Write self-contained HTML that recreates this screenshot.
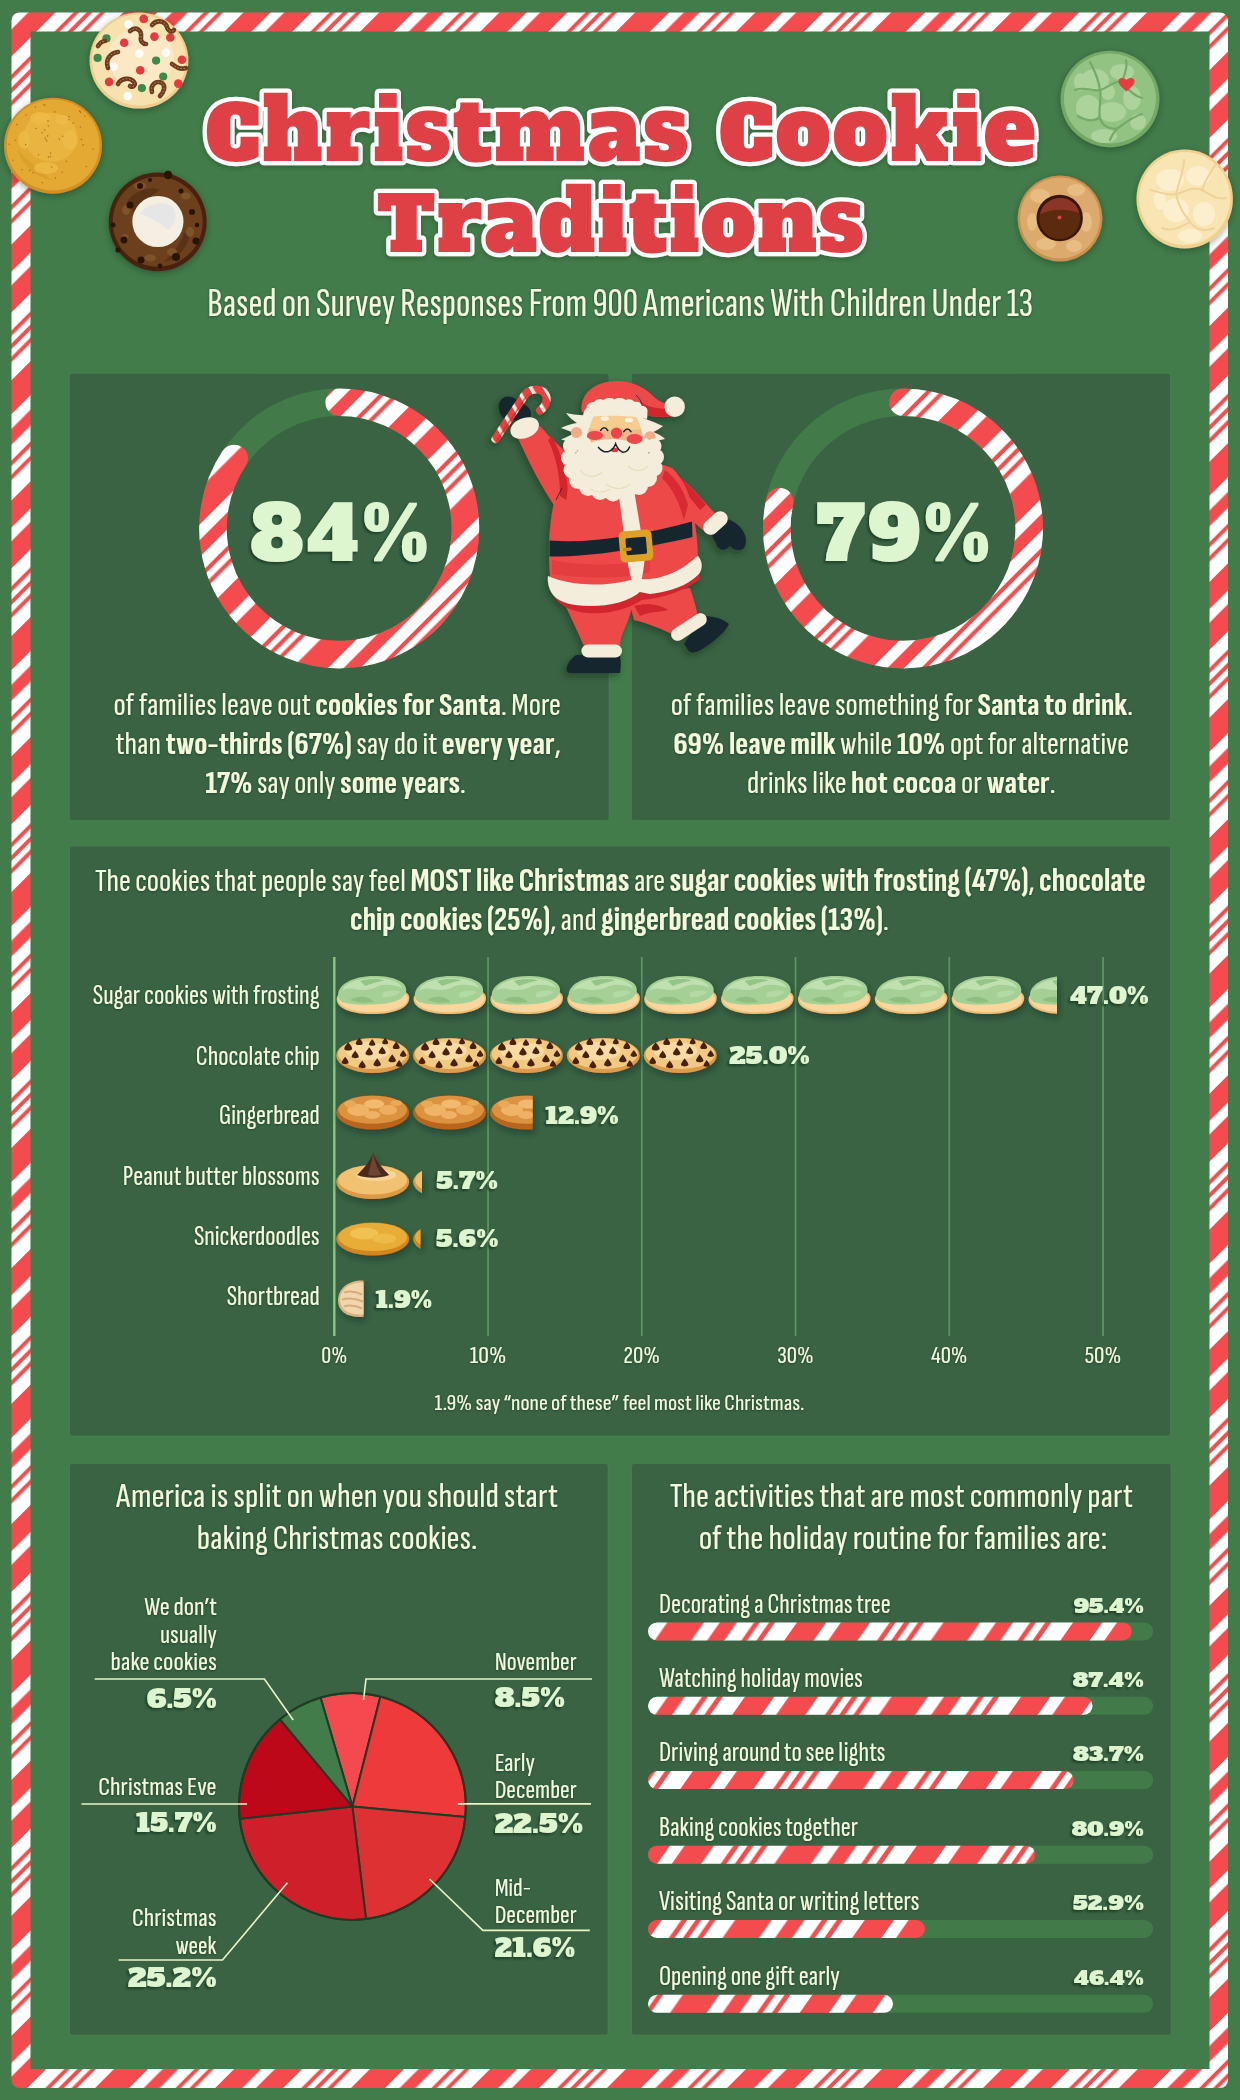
<!DOCTYPE html><html><head><meta charset="utf-8"><title>Christmas Cookie Traditions</title>
<style>html,body{margin:0;padding:0;background:#437c4b;}body{width:1240px;height:2100px;overflow:hidden;position:relative;}svg{position:absolute;left:0;top:0;display:block}.sh{filter:url(#tsh)}.nsh{filter:url(#nsh)}text{font-synthesis:none}</style></head><body>
<svg width="1240" height="2100" viewBox="0 0 1240 2100">
<defs>
<pattern id="cc" patternUnits="userSpaceOnUse" width="192.27" height="20" patternTransform="rotate(45) translate(0,0)">
<rect width="192.27" height="20" fill="#ffffff"/>
<rect x="0.00" y="0" width="20.40" height="20" fill="#f44b4e"/>
<rect x="30.60" y="0" width="20.40" height="20" fill="#f44b4e"/>
<rect x="64.60" y="0" width="4.08" height="20" fill="#f44b4e"/>
<rect x="74.46" y="0" width="4.08" height="20" fill="#f44b4e"/>
<rect x="84.32" y="0" width="4.08" height="20" fill="#f44b4e"/>
<rect x="102.00" y="0" width="25.50" height="20" fill="#f44b4e"/>
<rect x="138.55" y="0" width="11.90" height="20" fill="#f44b4e"/>
<rect x="162.35" y="0" width="4.08" height="20" fill="#f44b4e"/>
<rect x="172.89" y="0" width="4.08" height="20" fill="#f44b4e"/>
</pattern>
<pattern id="ccf" patternUnits="userSpaceOnUse" width="180.96" height="20" patternTransform="rotate(45) translate(0,0)">
<rect width="180.96" height="20" fill="#ffffff"/>
<rect x="0.00" y="0" width="19.20" height="20" fill="#f44b4e"/>
<rect x="28.80" y="0" width="19.20" height="20" fill="#f44b4e"/>
<rect x="60.80" y="0" width="3.84" height="20" fill="#f44b4e"/>
<rect x="70.08" y="0" width="3.84" height="20" fill="#f44b4e"/>
<rect x="79.36" y="0" width="3.84" height="20" fill="#f44b4e"/>
<rect x="96.00" y="0" width="24.00" height="20" fill="#f44b4e"/>
<rect x="130.40" y="0" width="11.20" height="20" fill="#f44b4e"/>
<rect x="152.80" y="0" width="3.84" height="20" fill="#f44b4e"/>
<rect x="162.72" y="0" width="3.84" height="20" fill="#f44b4e"/>
</pattern>
<pattern id="cc2" patternUnits="userSpaceOnUse" width="226.20" height="20" patternTransform="rotate(35) translate(0,0)">
<rect width="226.20" height="20" fill="#ffffff"/>
<rect x="0.00" y="0" width="24.00" height="20" fill="#f44b4e"/>
<rect x="36.00" y="0" width="24.00" height="20" fill="#f44b4e"/>
<rect x="76.00" y="0" width="4.80" height="20" fill="#f44b4e"/>
<rect x="87.60" y="0" width="4.80" height="20" fill="#f44b4e"/>
<rect x="99.20" y="0" width="4.80" height="20" fill="#f44b4e"/>
<rect x="120.00" y="0" width="30.00" height="20" fill="#f44b4e"/>
<rect x="163.00" y="0" width="14.00" height="20" fill="#f44b4e"/>
<rect x="191.00" y="0" width="4.80" height="20" fill="#f44b4e"/>
<rect x="203.40" y="0" width="4.80" height="20" fill="#f44b4e"/>
</pattern>
<pattern id="cane" patternUnits="userSpaceOnUse" width="12" height="12" patternTransform="rotate(-30)"><rect width="12" height="12" fill="#e8403f"/><rect width="3.6" height="12" fill="#f7efdc"/></pattern>
<filter id="tsh" x="-5%" y="-20%" width="110%" height="140%"><feDropShadow dx="0" dy="0.6" stdDeviation="0.9" flood-color="#173520" flood-opacity="0.75"/></filter>
<filter id="nsh" x="-8%" y="-20%" width="116%" height="150%"><feDropShadow dx="-1.8" dy="2" stdDeviation="1.1" flood-color="#17301d" flood-opacity="0.7"/></filter>
<filter id="csh" x="-20%" y="-20%" width="140%" height="160%"><feDropShadow dx="2" dy="4" stdDeviation="3" flood-color="#10261a" flood-opacity="0.5"/></filter>
<filter id="ssh" x="-10%" y="-10%" width="120%" height="120%"><feDropShadow dx="0" dy="2" stdDeviation="3" flood-color="#10261a" flood-opacity="0.4"/></filter>
<filter id="ttl" x="-5%" y="-10%" width="110%" height="130%"><feDropShadow dx="0" dy="2" stdDeviation="2" flood-color="#12301a" flood-opacity="0.35"/></filter>
<filter id="santash" x="-15%" y="-15%" width="130%" height="130%"><feDropShadow dx="-2" dy="3" stdDeviation="3" flood-color="#0f2617" flood-opacity="0.5"/></filter>
</defs>
<rect width="1240" height="2100" fill="#437c4b"/>
<rect x="11.5" y="12.5" width="1216.5" height="2075.5" rx="8" fill="url(#ccf)"/>
<rect x="30.5" y="31.5" width="1179" height="2037.5" fill="#437c4b"/>
<rect x="69.3" y="373.3" width="539.7" height="447.2" rx="2.5" fill="#3a6344" stroke="#52895a" stroke-width="0.8" stroke-opacity="0.6"/>
<rect x="631.4" y="373.3" width="539.1" height="447.2" rx="2.5" fill="#3a6344" stroke="#52895a" stroke-width="0.8" stroke-opacity="0.6"/>
<rect x="69.5" y="846" width="1101.0" height="590" rx="2.5" fill="#3a6344" stroke="#52895a" stroke-width="0.8" stroke-opacity="0.6"/>
<rect x="69.5" y="1463.5" width="538.5" height="571.5" rx="2.5" fill="#3a6344" stroke="#52895a" stroke-width="0.8" stroke-opacity="0.6"/>
<rect x="631.5" y="1463.5" width="539.5" height="571.5" rx="2.5" fill="#3a6344" stroke="#52895a" stroke-width="0.8" stroke-opacity="0.6"/>
<circle cx="339.2" cy="528.4" r="126.2" fill="none" stroke="#427b49" stroke-width="27.6"/>
<path d="M339.2,402.2 A126.2,126.2 0 1 1 234.16,458.45" fill="none" stroke="url(#cc)" stroke-width="27.6" stroke-linecap="round"/>
<text x="250.5" y="560.5" font-size="75.6" font-weight="700" text-anchor="start" fill="#def6cf" font-family="'Alfa Slab One','DejaVu Serif','Liberation Serif',serif" textLength="178.5" lengthAdjust="spacing" class="nsh" >84%</text>
<circle cx="903.0" cy="528.4" r="126.2" fill="none" stroke="#427b49" stroke-width="27.6"/>
<path d="M903.0,402.2 A126.2,126.2 0 1 1 779.67,501.64" fill="none" stroke="url(#cc)" stroke-width="27.6" stroke-linecap="round"/>
<text x="816.4" y="560.5" font-size="75.6" font-weight="700" text-anchor="start" fill="#def6cf" font-family="'Alfa Slab One','DejaVu Serif','Liberation Serif',serif" textLength="174.1" lengthAdjust="spacing" class="nsh" >79%</text>
<text x="113.5" y="715.0" font-size="32.3" font-weight="420" text-anchor="start" fill="#f4f9dc" font-family="'Sofia Sans Extra Condensed','Liberation Sans',sans-serif" textLength="447.2" lengthAdjust="spacingAndGlyphs" class="sh" >of families leave out <tspan font-weight="700">cookies for Santa</tspan>. More</text>
<text x="115.5" y="753.8" font-size="32.3" font-weight="420" text-anchor="start" fill="#f4f9dc" font-family="'Sofia Sans Extra Condensed','Liberation Sans',sans-serif" textLength="445.2" lengthAdjust="spacingAndGlyphs" class="sh" >than <tspan font-weight="700">two-thirds (67%)</tspan> say do it <tspan font-weight="700">every year</tspan>,</text>
<text x="205.3" y="792.6" font-size="32.3" font-weight="420" text-anchor="start" fill="#f4f9dc" font-family="'Sofia Sans Extra Condensed','Liberation Sans',sans-serif" textLength="260.6" lengthAdjust="spacingAndGlyphs" class="sh" ><tspan font-weight="700">17%</tspan> say only <tspan font-weight="700">some years</tspan>.</text>
<text x="670.8" y="715.0" font-size="32.3" font-weight="420" text-anchor="start" fill="#f4f9dc" font-family="'Sofia Sans Extra Condensed','Liberation Sans',sans-serif" textLength="462.2" lengthAdjust="spacingAndGlyphs" class="sh" >of families leave something for <tspan font-weight="700">Santa to drink</tspan>.</text>
<text x="673.5" y="753.8" font-size="32.3" font-weight="420" text-anchor="start" fill="#f4f9dc" font-family="'Sofia Sans Extra Condensed','Liberation Sans',sans-serif" textLength="455.5" lengthAdjust="spacingAndGlyphs" class="sh" ><tspan font-weight="700">69% leave milk</tspan> while <tspan font-weight="700">10%</tspan> opt for alternative</text>
<text x="747.0" y="792.6" font-size="32.3" font-weight="420" text-anchor="start" fill="#f4f9dc" font-family="'Sofia Sans Extra Condensed','Liberation Sans',sans-serif" textLength="308.7" lengthAdjust="spacingAndGlyphs" class="sh" >drinks like <tspan font-weight="700">hot cocoa</tspan> or <tspan font-weight="700">water</tspan>.</text>
<text x="207.3" y="315.9" font-size="41.2" font-weight="430" text-anchor="start" fill="#f4f9dc" font-family="'Sofia Sans Extra Condensed','Liberation Sans',sans-serif" textLength="825.7" lengthAdjust="spacingAndGlyphs" class="sh" >Based on Survey Responses From 900 Americans With Children Under 13</text>
<text x="95.0" y="890.5" font-size="33" font-weight="420" text-anchor="start" fill="#f4f9dc" font-family="'Sofia Sans Extra Condensed','Liberation Sans',sans-serif" textLength="1050.8" lengthAdjust="spacingAndGlyphs" class="sh" >The cookies that people say feel <tspan font-weight="700">MOST like Christmas</tspan> are <tspan font-weight="700">sugar cookies with frosting (47%)</tspan>, <tspan font-weight="700">chocolate</tspan></text>
<text x="350.0" y="929.5" font-size="33" font-weight="420" text-anchor="start" fill="#f4f9dc" font-family="'Sofia Sans Extra Condensed','Liberation Sans',sans-serif" textLength="538.8" lengthAdjust="spacingAndGlyphs" class="sh" ><tspan font-weight="700">chip cookies (25%)</tspan>, and <tspan font-weight="700">gingerbread cookies (13%)</tspan>.</text>
<defs>
<g id="ck_sugar"><path d="M0.5,24 C0.5,16 14,12 37,12 C60,12 73,15 73,23 C73,33 58,39 36,39 C14,39 0.5,33 0.5,24 Z" fill="#efbf78"/><path d="M2,24 C2,17 15,14 37,14 C59,14 71.5,17 71.5,23.5 C71.5,31 57,37 36,37 C15,37 2,31 2,24 Z" fill="#f8d69d"/><path d="M2,21 C1,10 16,1 38,1 C58,1 71,7 70,16 C69,23 60,28 44,29 C30,30 18,30 10,28 C4,27 2,24 2,21 Z" fill="#a4d095"/><path d="M6,16 C8,8 22,3 38,3 C54,3 64,7 66,13 C58,9 48,9 42,11 C36,15 26,16 18,14 C12,13 8,14 6,16 Z" fill="#bfe0b1"/><path d="M24,6 C32,3.5 42,3.5 48,5.5 C42,6.5 35,8.5 29,11 Z" fill="#93c686"/><path d="M14,25 C22,20 32,21 38,27 C30,28.5 22,28 14,25 Z" fill="#8dc080"/><path d="M46,18 C52,15 60,15 64,17 C60,21 52,23 46,22 Z" fill="#b3d9a4"/></g>
<g id="ck_choc"><ellipse cx="36.5" cy="18.5" rx="36.5" ry="17.5" fill="#dd9c4c"/><ellipse cx="36.5" cy="16.8" rx="34.8" ry="15.2" fill="#f2c983"/><ellipse cx="32" cy="14" rx="22" ry="9" fill="#f8dba3"/><path d="M8.0,12.2 C8.0,9.2 10.8,7.2 12.0,5.0 C13.2,7.2 16.0,9.2 16.0,12.2 C14.4,14.0 9.6,14.0 8.0,12.2 Z" fill="#4a230f"/><path d="M19.5,6.9 C19.5,4.3 21.9,2.6 23.0,0.6 C24.1,2.6 26.5,4.3 26.5,6.9 C25.1,8.5 20.9,8.5 19.5,6.9 Z" fill="#4a230f"/><path d="M32.8,7.8 C32.8,5.4 35.0,3.8 36.0,2.0 C37.0,3.8 39.2,5.4 39.2,7.8 C37.9,9.2 34.1,9.2 32.8,7.8 Z" fill="#4a230f"/><path d="M46.0,6.2 C46.0,3.9 48.1,2.4 49.0,0.8 C49.9,2.4 52.0,3.9 52.0,6.2 C50.8,7.5 47.2,7.5 46.0,6.2 Z" fill="#4a230f"/><path d="M56.5,10.9 C56.5,8.3 59.0,6.6 60.0,4.6 C61.0,6.6 63.5,8.3 63.5,10.9 C62.1,12.5 57.9,12.5 56.5,10.9 Z" fill="#4a230f"/><path d="M63.7,18.8 C63.7,16.3 66.0,14.7 67.0,12.9 C68.0,14.7 70.3,16.3 70.3,18.8 C69.0,20.3 65.0,20.3 63.7,18.8 Z" fill="#4a230f"/><path d="M15.4,20.0 C15.4,17.3 17.9,15.5 19.0,13.5 C20.1,15.5 22.6,17.3 22.6,20.0 C21.2,21.6 16.8,21.6 15.4,20.0 Z" fill="#4a230f"/><path d="M29.2,17.1 C29.2,14.2 31.9,12.3 33.0,10.2 C34.1,12.3 36.8,14.2 36.8,17.1 C35.3,18.8 30.7,18.8 29.2,17.1 Z" fill="#4a230f"/><path d="M42.4,16.0 C42.4,13.3 44.9,11.5 46.0,9.5 C47.1,11.5 49.6,13.3 49.6,16.0 C48.2,17.6 43.8,17.6 42.4,16.0 Z" fill="#4a230f"/><path d="M52.2,24.1 C52.2,21.2 54.9,19.3 56.0,17.2 C57.1,19.3 59.8,21.2 59.8,24.1 C58.3,25.8 53.7,25.8 52.2,24.1 Z" fill="#4a230f"/><path d="M5.6,25.9 C5.6,23.3 8.0,21.6 9.0,19.8 C10.0,21.6 12.4,23.3 12.4,25.9 C11.0,27.4 7.0,27.4 5.6,25.9 Z" fill="#4a230f"/><path d="M22.4,30.0 C22.4,27.3 24.9,25.5 26.0,23.5 C27.1,25.5 29.6,27.3 29.6,30.0 C28.2,31.6 23.8,31.6 22.4,30.0 Z" fill="#4a230f"/><path d="M37.2,28.1 C37.2,25.2 39.9,23.3 41.0,21.2 C42.1,23.3 44.8,25.2 44.8,28.1 C43.3,29.8 38.7,29.8 37.2,28.1 Z" fill="#4a230f"/><path d="M59.8,28.8 C59.8,26.4 62.0,24.8 63.0,23.0 C64.0,24.8 66.2,26.4 66.2,28.8 C64.9,30.2 61.1,30.2 59.8,28.8 Z" fill="#4a230f"/></g>
<g id="ck_ginger"><ellipse cx="36.5" cy="17.5" rx="36.5" ry="17" fill="#b9651c"/><ellipse cx="36.5" cy="14.8" rx="34.5" ry="14" fill="#dc9340"/><ellipse cx="22" cy="15" rx="11" ry="6" fill="#f0b466"/><ellipse cx="38" cy="9" rx="10" ry="4.5" fill="#f2ba70"/><ellipse cx="52" cy="15" rx="9" ry="5" fill="#eeae5e"/><ellipse cx="36" cy="20" rx="8" ry="4" fill="#efb163"/><ellipse cx="14" cy="9" rx="6" ry="3.5" fill="#eaa956"/><ellipse cx="60" cy="8" rx="6" ry="3" fill="#eaa956"/></g>
<g id="ck_peanut"><ellipse cx="36.5" cy="17" rx="36.5" ry="17" fill="#dd9a45"/><ellipse cx="36.5" cy="15" rx="34.5" ry="14.5" fill="#f2c273"/><ellipse cx="40" cy="10" rx="20" ry="6" fill="#f7d592"/></g>
<g id="ck_snick"><ellipse cx="36.5" cy="16.5" rx="36.5" ry="16.5" fill="#d4861f"/><ellipse cx="36.5" cy="14.5" rx="34.5" ry="14" fill="#e8ad38"/><ellipse cx="28" cy="11" rx="14" ry="6" fill="#f0c252"/><ellipse cx="48" cy="16" rx="12" ry="5" fill="#eeba48"/></g>
</defs>
<rect x="333.10" y="957" width="2.4" height="379" fill="#8cc684"/>
<rect x="487.15" y="957" width="1.8" height="379" fill="#5a965e"/>
<rect x="640.90" y="957" width="1.8" height="379" fill="#5a965e"/>
<rect x="794.65" y="957" width="1.8" height="379" fill="#5a965e"/>
<rect x="948.40" y="957" width="1.8" height="379" fill="#5a965e"/>
<rect x="1102.15" y="957" width="1.8" height="379" fill="#5a965e"/>
<clipPath id="clip0"><rect x="300" y="945.0" width="756.92" height="100"/></clipPath>
<g filter="url(#csh)"><g clip-path="url(#clip0)">
<use href="#ck_sugar" x="336.20" y="975.0"/>
<use href="#ck_sugar" x="413.07" y="975.0"/>
<use href="#ck_sugar" x="489.95" y="975.0"/>
<use href="#ck_sugar" x="566.83" y="975.0"/>
<use href="#ck_sugar" x="643.70" y="975.0"/>
<use href="#ck_sugar" x="720.58" y="975.0"/>
<use href="#ck_sugar" x="797.45" y="975.0"/>
<use href="#ck_sugar" x="874.33" y="975.0"/>
<use href="#ck_sugar" x="951.20" y="975.0"/>
<use href="#ck_sugar" x="1028.08" y="975.0"/>
</g></g>
<text x="92.7" y="1003.5" font-size="27.4" font-weight="420" text-anchor="start" fill="#f4f9dc" font-family="'Sofia Sans Extra Condensed','Liberation Sans',sans-serif" textLength="227.0" lengthAdjust="spacingAndGlyphs" class="sh" >Sugar cookies with frosting</text>
<text x="1070.0" y="1004.2" font-size="22" font-weight="700" text-anchor="start" fill="#def6cf" font-family="'Alfa Slab One','DejaVu Serif','Liberation Serif',serif" textLength="78.7" lengthAdjust="spacingAndGlyphs" class="nsh" >47.0%</text>
<clipPath id="clip1"><rect x="300" y="1007.0" width="418.67" height="100"/></clipPath>
<g filter="url(#csh)"><g clip-path="url(#clip1)">
<use href="#ck_choc" x="336.20" y="1037.0"/>
<use href="#ck_choc" x="413.07" y="1037.0"/>
<use href="#ck_choc" x="489.95" y="1037.0"/>
<use href="#ck_choc" x="566.83" y="1037.0"/>
<use href="#ck_choc" x="643.70" y="1037.0"/>
</g></g>
<text x="195.8" y="1064.5" font-size="27.4" font-weight="420" text-anchor="start" fill="#f4f9dc" font-family="'Sofia Sans Extra Condensed','Liberation Sans',sans-serif" textLength="123.9" lengthAdjust="spacingAndGlyphs" class="sh" >Chocolate chip</text>
<text x="729.3" y="1063.5" font-size="22" font-weight="700" text-anchor="start" fill="#def6cf" font-family="'Alfa Slab One','DejaVu Serif','Liberation Serif',serif" textLength="80.6" lengthAdjust="spacingAndGlyphs" class="nsh" >25.0%</text>
<clipPath id="clip2"><rect x="300" y="1065.0" width="232.64" height="100"/></clipPath>
<g filter="url(#csh)"><g clip-path="url(#clip2)">
<use href="#ck_ginger" x="336.20" y="1095.0"/>
<use href="#ck_ginger" x="413.07" y="1095.0"/>
<use href="#ck_ginger" x="489.95" y="1095.0"/>
</g></g>
<text x="219.0" y="1124.4" font-size="27.4" font-weight="420" text-anchor="start" fill="#f4f9dc" font-family="'Sofia Sans Extra Condensed','Liberation Sans',sans-serif" textLength="100.7" lengthAdjust="spacingAndGlyphs" class="sh" >Gingerbread</text>
<text x="545.3" y="1124.0" font-size="22" font-weight="700" text-anchor="start" fill="#def6cf" font-family="'Alfa Slab One','DejaVu Serif','Liberation Serif',serif" textLength="73.6" lengthAdjust="spacingAndGlyphs" class="nsh" >12.9%</text>
<clipPath id="clip3"><rect x="300" y="1135.0" width="121.94" height="100"/></clipPath>
<g filter="url(#csh)"><g clip-path="url(#clip3)">
<use href="#ck_peanut" x="336.20" y="1165.0"/>
<path d="M373.2,1152.5 C375.2,1160.0 382.2,1168.0 389.2,1175.0 C380.2,1178.5 366.2,1178.5 357.2,1175.0 C364.2,1168.0 371.2,1160.0 373.2,1152.5 Z" fill="#4a2a1c"/>
<path d="M373.2,1152.5 C374.2,1161.0 377.2,1168.0 381.2,1175.0 C376.2,1176.0 371.2,1176.0 368.2,1175.0 C370.2,1166.0 372.2,1160.0 373.2,1152.5 Z" fill="#6e4532"/>
<use href="#ck_peanut" x="413.07" y="1165.0"/>
</g></g>
<text x="122.8" y="1184.8" font-size="27.4" font-weight="420" text-anchor="start" fill="#f4f9dc" font-family="'Sofia Sans Extra Condensed','Liberation Sans',sans-serif" textLength="196.9" lengthAdjust="spacingAndGlyphs" class="sh" >Peanut butter blossoms</text>
<text x="436.3" y="1189.3" font-size="22" font-weight="700" text-anchor="start" fill="#def6cf" font-family="'Alfa Slab One','DejaVu Serif','Liberation Serif',serif" textLength="61.7" lengthAdjust="spacingAndGlyphs" class="nsh" >5.7%</text>
<clipPath id="clip4"><rect x="300" y="1192.5" width="120.40" height="100"/></clipPath>
<g filter="url(#csh)"><g clip-path="url(#clip4)">
<use href="#ck_snick" x="336.20" y="1222.5"/>
<use href="#ck_snick" x="413.07" y="1222.5"/>
</g></g>
<text x="193.9" y="1244.9" font-size="27.4" font-weight="420" text-anchor="start" fill="#f4f9dc" font-family="'Sofia Sans Extra Condensed','Liberation Sans',sans-serif" textLength="125.8" lengthAdjust="spacingAndGlyphs" class="sh" >Snickerdoodles</text>
<text x="436.0" y="1246.8" font-size="22" font-weight="700" text-anchor="start" fill="#def6cf" font-family="'Alfa Slab One','DejaVu Serif','Liberation Serif',serif" textLength="62.5" lengthAdjust="spacingAndGlyphs" class="nsh" >5.6%</text>
<clipPath id="clip5"><rect x="300" y="1250.5" width="63.51" height="100"/></clipPath>
<g filter="url(#csh)"><g clip-path="url(#clip5)">
<g transform="translate(336,1280.5)"><path d="M2,20 C2,8 12,0 26,0 C40,0 46,10 46,20 C46,30 36,36.5 24,36.5 C10,36.5 2,30 2,20 Z" fill="#d9b282"/><path d="M4,19 C4,9 13,2 26,2 C38,2 44,10 44,19 C44,28 35,34 24,34 C12,34 4,28 4,19 Z" fill="#f1d6ab"/><path d="M8,12 C14,10 20,11 26,14 M6,19 C13,17 20,18 27,21 M8,26 C14,24 20,25 26,28" stroke="#d4ad7c" stroke-width="2" fill="none"/></g>
</g></g>
<text x="226.8" y="1305.2" font-size="27.4" font-weight="420" text-anchor="start" fill="#f4f9dc" font-family="'Sofia Sans Extra Condensed','Liberation Sans',sans-serif" textLength="92.9" lengthAdjust="spacingAndGlyphs" class="sh" >Shortbread</text>
<text x="375.5" y="1307.5" font-size="22" font-weight="700" text-anchor="start" fill="#def6cf" font-family="'Alfa Slab One','DejaVu Serif','Liberation Serif',serif" textLength="56.5" lengthAdjust="spacingAndGlyphs" class="nsh" >1.9%</text>
<text x="321.3" y="1363.4" font-size="24.6" font-weight="420" text-anchor="start" fill="#f4f9dc" font-family="'Sofia Sans Extra Condensed','Liberation Sans',sans-serif" textLength="26.0" lengthAdjust="spacingAndGlyphs" class="sh" >0%</text>
<text x="469.8" y="1363.4" font-size="24.6" font-weight="420" text-anchor="start" fill="#f4f9dc" font-family="'Sofia Sans Extra Condensed','Liberation Sans',sans-serif" textLength="36.5" lengthAdjust="spacingAndGlyphs" class="sh" >10%</text>
<text x="623.5" y="1363.4" font-size="24.6" font-weight="420" text-anchor="start" fill="#f4f9dc" font-family="'Sofia Sans Extra Condensed','Liberation Sans',sans-serif" textLength="36.5" lengthAdjust="spacingAndGlyphs" class="sh" >20%</text>
<text x="777.3" y="1363.4" font-size="24.6" font-weight="420" text-anchor="start" fill="#f4f9dc" font-family="'Sofia Sans Extra Condensed','Liberation Sans',sans-serif" textLength="36.5" lengthAdjust="spacingAndGlyphs" class="sh" >30%</text>
<text x="931.0" y="1363.4" font-size="24.6" font-weight="420" text-anchor="start" fill="#f4f9dc" font-family="'Sofia Sans Extra Condensed','Liberation Sans',sans-serif" textLength="36.5" lengthAdjust="spacingAndGlyphs" class="sh" >40%</text>
<text x="1084.8" y="1363.4" font-size="24.6" font-weight="420" text-anchor="start" fill="#f4f9dc" font-family="'Sofia Sans Extra Condensed','Liberation Sans',sans-serif" textLength="36.5" lengthAdjust="spacingAndGlyphs" class="sh" >50%</text>
<text x="434.5" y="1409.8" font-size="23" font-weight="420" text-anchor="start" fill="#f4f9dc" font-family="'Sofia Sans Extra Condensed','Liberation Sans',sans-serif" textLength="370.0" lengthAdjust="spacingAndGlyphs" class="sh" >1.9% say “none of these” feel most like Christmas.</text>
<path d="M352.4,1806.5 L320.57,1697.66 A113.4,113.4 0 0 1 380.41,1696.61 Z" fill="#f44a4f" stroke="#1f3b25" stroke-width="2" stroke-linejoin="round"/>
<path d="M352.4,1806.5 L380.41,1696.61 A113.4,113.4 0 0 1 465.32,1816.97 Z" fill="#ef3a3c" stroke="#1f3b25" stroke-width="2" stroke-linejoin="round"/>
<path d="M352.4,1806.5 L465.32,1816.97 A113.4,113.4 0 0 1 366.02,1919.08 Z" fill="#de3134" stroke="#1f3b25" stroke-width="2" stroke-linejoin="round"/>
<path d="M352.4,1806.5 L366.02,1919.08 A113.4,113.4 0 0 1 239.66,1818.75 Z" fill="#cf1f2a" stroke="#1f3b25" stroke-width="2" stroke-linejoin="round"/>
<path d="M352.4,1806.5 L239.66,1818.75 A113.4,113.4 0 0 1 279.96,1719.25 Z" fill="#bc0818" stroke="#1f3b25" stroke-width="2" stroke-linejoin="round"/>
<path d="M352.4,1806.5 L279.96,1719.25 A113.4,113.4 0 0 1 320.57,1697.66 Z" fill="#437c4b" stroke="#1f3b25" stroke-width="2" stroke-linejoin="round"/>
<circle cx="352.4" cy="1806.5" r="113.4" fill="none" stroke="#1f3b25" stroke-width="2"/>
<path d="M94.7,1679 L264.4,1679 L293.2,1720" fill="none" stroke="#eaf4c6" stroke-width="1.6"/>
<path d="M592,1679 L366,1679 L363.5,1700" fill="none" stroke="#eaf4c6" stroke-width="1.6"/>
<path d="M591,1803.9 L457.8,1803.9" fill="none" stroke="#eaf4c6" stroke-width="1.6"/>
<path d="M589.8,1930.4 L482.9,1930.4 L429.5,1879" fill="none" stroke="#eaf4c6" stroke-width="1.6"/>
<path d="M81.5,1804 L247.1,1804" fill="none" stroke="#eaf4c6" stroke-width="1.6"/>
<path d="M118.6,1960 L222.5,1960 L287.4,1882.8" fill="none" stroke="#eaf4c6" stroke-width="1.6"/>
<text x="144.2" y="1615.4" font-size="26.5" font-weight="420" text-anchor="start" fill="#f4f9dc" font-family="'Sofia Sans Extra Condensed','Liberation Sans',sans-serif" textLength="72.8" lengthAdjust="spacingAndGlyphs" class="sh" >We don’t</text>
<text x="160.0" y="1642.8" font-size="26.5" font-weight="420" text-anchor="start" fill="#f4f9dc" font-family="'Sofia Sans Extra Condensed','Liberation Sans',sans-serif" textLength="57.0" lengthAdjust="spacingAndGlyphs" class="sh" >usually</text>
<text x="110.5" y="1670.4" font-size="26.5" font-weight="420" text-anchor="start" fill="#f4f9dc" font-family="'Sofia Sans Extra Condensed','Liberation Sans',sans-serif" textLength="106.5" lengthAdjust="spacingAndGlyphs" class="sh" >bake cookies</text>
<text x="98.2" y="1794.9" font-size="26.5" font-weight="420" text-anchor="start" fill="#f4f9dc" font-family="'Sofia Sans Extra Condensed','Liberation Sans',sans-serif" textLength="118.3" lengthAdjust="spacingAndGlyphs" class="sh" >Christmas Eve</text>
<text x="132.1" y="1926.0" font-size="26.5" font-weight="420" text-anchor="start" fill="#f4f9dc" font-family="'Sofia Sans Extra Condensed','Liberation Sans',sans-serif" textLength="84.4" lengthAdjust="spacingAndGlyphs" class="sh" >Christmas</text>
<text x="175.4" y="1953.8" font-size="26.5" font-weight="420" text-anchor="start" fill="#f4f9dc" font-family="'Sofia Sans Extra Condensed','Liberation Sans',sans-serif" textLength="41.1" lengthAdjust="spacingAndGlyphs" class="sh" >week</text>
<text x="494.7" y="1670.0" font-size="26.5" font-weight="420" text-anchor="start" fill="#f4f9dc" font-family="'Sofia Sans Extra Condensed','Liberation Sans',sans-serif" textLength="82.1" lengthAdjust="spacingAndGlyphs" class="sh" >November</text>
<text x="494.7" y="1770.8" font-size="26.5" font-weight="420" text-anchor="start" fill="#f4f9dc" font-family="'Sofia Sans Extra Condensed','Liberation Sans',sans-serif" textLength="40.3" lengthAdjust="spacingAndGlyphs" class="sh" >Early</text>
<text x="494.7" y="1797.9" font-size="26.5" font-weight="420" text-anchor="start" fill="#f4f9dc" font-family="'Sofia Sans Extra Condensed','Liberation Sans',sans-serif" textLength="82.1" lengthAdjust="spacingAndGlyphs" class="sh" >December</text>
<text x="494.7" y="1895.9" font-size="26.5" font-weight="420" text-anchor="start" fill="#f4f9dc" font-family="'Sofia Sans Extra Condensed','Liberation Sans',sans-serif" textLength="36.3" lengthAdjust="spacingAndGlyphs" class="sh" >Mid-</text>
<text x="494.7" y="1923.4" font-size="26.5" font-weight="420" text-anchor="start" fill="#f4f9dc" font-family="'Sofia Sans Extra Condensed','Liberation Sans',sans-serif" textLength="82.1" lengthAdjust="spacingAndGlyphs" class="sh" >December</text>
<text x="146.7" y="1707.7" font-size="26" font-weight="700" text-anchor="start" fill="#def6cf" font-family="'Alfa Slab One','DejaVu Serif','Liberation Serif',serif" textLength="70.3" lengthAdjust="spacingAndGlyphs" class="nsh" >6.5%</text>
<text x="135.9" y="1832.3" font-size="26" font-weight="700" text-anchor="start" fill="#def6cf" font-family="'Alfa Slab One','DejaVu Serif','Liberation Serif',serif" textLength="81.0" lengthAdjust="spacingAndGlyphs" class="nsh" >15.7%</text>
<text x="127.9" y="1987.2" font-size="26" font-weight="700" text-anchor="start" fill="#def6cf" font-family="'Alfa Slab One','DejaVu Serif','Liberation Serif',serif" textLength="89.0" lengthAdjust="spacingAndGlyphs" class="nsh" >25.2%</text>
<text x="494.7" y="1707.2" font-size="26" font-weight="700" text-anchor="start" fill="#def6cf" font-family="'Alfa Slab One','DejaVu Serif','Liberation Serif',serif" textLength="70.3" lengthAdjust="spacingAndGlyphs" class="nsh" >8.5%</text>
<text x="494.7" y="1832.7" font-size="26" font-weight="700" text-anchor="start" fill="#def6cf" font-family="'Alfa Slab One','DejaVu Serif','Liberation Serif',serif" textLength="88.6" lengthAdjust="spacingAndGlyphs" class="nsh" >22.5%</text>
<text x="494.7" y="1957.4" font-size="26" font-weight="700" text-anchor="start" fill="#def6cf" font-family="'Alfa Slab One','DejaVu Serif','Liberation Serif',serif" textLength="80.5" lengthAdjust="spacingAndGlyphs" class="nsh" >21.6%</text>
<text x="116.3" y="1506.7" font-size="35" font-weight="430" text-anchor="start" fill="#f4f9dc" font-family="'Sofia Sans Extra Condensed','Liberation Sans',sans-serif" textLength="441.7" lengthAdjust="spacingAndGlyphs" class="sh" >America is split on when you should start</text>
<text x="196.8" y="1549.3" font-size="35" font-weight="430" text-anchor="start" fill="#f4f9dc" font-family="'Sofia Sans Extra Condensed','Liberation Sans',sans-serif" textLength="280.7" lengthAdjust="spacingAndGlyphs" class="sh" >baking Christmas cookies.</text>
<text x="669.7" y="1506.7" font-size="35" font-weight="430" text-anchor="start" fill="#f4f9dc" font-family="'Sofia Sans Extra Condensed','Liberation Sans',sans-serif" textLength="463.3" lengthAdjust="spacingAndGlyphs" class="sh" >The activities that are most commonly part</text>
<text x="698.7" y="1549.3" font-size="35" font-weight="430" text-anchor="start" fill="#f4f9dc" font-family="'Sofia Sans Extra Condensed','Liberation Sans',sans-serif" textLength="408.5" lengthAdjust="spacingAndGlyphs" class="sh" >of the holiday routine for families are:</text>
<rect x="648" y="1622.4" width="505.2" height="18" rx="9" fill="#427b49"/>
<rect x="648" y="1622.4" width="483.7" height="18" rx="9" fill="url(#cc2)"/>
<text x="658.9" y="1612.5" font-size="29" font-weight="410" text-anchor="start" fill="#f4f9dc" font-family="'Sofia Sans Extra Condensed','Liberation Sans',sans-serif" textLength="231.7" lengthAdjust="spacingAndGlyphs" class="sh" >Decorating a Christmas tree</text>
<text x="1073.7" y="1612.5" font-size="19.3" font-weight="700" text-anchor="start" fill="#def6cf" font-family="'Alfa Slab One','DejaVu Serif','Liberation Serif',serif" textLength="70.3" lengthAdjust="spacingAndGlyphs" class="nsh" >95.4%</text>
<rect x="648" y="1696.8" width="505.2" height="18" rx="9" fill="#427b49"/>
<rect x="648" y="1696.8" width="444.6" height="18" rx="9" fill="url(#cc2)"/>
<text x="658.9" y="1686.5" font-size="29" font-weight="410" text-anchor="start" fill="#f4f9dc" font-family="'Sofia Sans Extra Condensed','Liberation Sans',sans-serif" textLength="204.1" lengthAdjust="spacingAndGlyphs" class="sh" >Watching holiday movies</text>
<text x="1072.7" y="1686.5" font-size="19.3" font-weight="700" text-anchor="start" fill="#def6cf" font-family="'Alfa Slab One','DejaVu Serif','Liberation Serif',serif" textLength="71.3" lengthAdjust="spacingAndGlyphs" class="nsh" >87.4%</text>
<rect x="648" y="1771.1" width="505.2" height="18" rx="9" fill="#427b49"/>
<rect x="648" y="1771.1" width="425.7" height="18" rx="9" fill="url(#cc2)"/>
<text x="658.9" y="1761.3" font-size="29" font-weight="410" text-anchor="start" fill="#f4f9dc" font-family="'Sofia Sans Extra Condensed','Liberation Sans',sans-serif" textLength="226.7" lengthAdjust="spacingAndGlyphs" class="sh" >Driving around to see lights</text>
<text x="1073.1" y="1761.3" font-size="19.3" font-weight="700" text-anchor="start" fill="#def6cf" font-family="'Alfa Slab One','DejaVu Serif','Liberation Serif',serif" textLength="70.9" lengthAdjust="spacingAndGlyphs" class="nsh" >83.7%</text>
<rect x="648" y="1845.7" width="505.2" height="18" rx="9" fill="#427b49"/>
<rect x="648" y="1845.7" width="387.2" height="18" rx="9" fill="url(#cc2)"/>
<text x="658.9" y="1835.6" font-size="29" font-weight="410" text-anchor="start" fill="#f4f9dc" font-family="'Sofia Sans Extra Condensed','Liberation Sans',sans-serif" textLength="199.1" lengthAdjust="spacingAndGlyphs" class="sh" >Baking cookies together</text>
<text x="1071.7" y="1835.6" font-size="19.3" font-weight="700" text-anchor="start" fill="#def6cf" font-family="'Alfa Slab One','DejaVu Serif','Liberation Serif',serif" textLength="72.3" lengthAdjust="spacingAndGlyphs" class="nsh" >80.9%</text>
<rect x="648" y="1920.0" width="505.2" height="18" rx="9" fill="#427b49"/>
<rect x="648" y="1920.0" width="277.0" height="18" rx="9" fill="url(#cc2)"/>
<text x="658.9" y="1909.8" font-size="29" font-weight="410" text-anchor="start" fill="#f4f9dc" font-family="'Sofia Sans Extra Condensed','Liberation Sans',sans-serif" textLength="260.6" lengthAdjust="spacingAndGlyphs" class="sh" >Visiting Santa or writing letters</text>
<text x="1073.1" y="1909.8" font-size="19.3" font-weight="700" text-anchor="start" fill="#def6cf" font-family="'Alfa Slab One','DejaVu Serif','Liberation Serif',serif" textLength="70.9" lengthAdjust="spacingAndGlyphs" class="nsh" >52.9%</text>
<rect x="648" y="1994.8" width="505.2" height="18" rx="9" fill="#427b49"/>
<rect x="648" y="1994.8" width="245.0" height="18" rx="9" fill="url(#cc2)"/>
<text x="658.9" y="1984.5" font-size="29" font-weight="410" text-anchor="start" fill="#f4f9dc" font-family="'Sofia Sans Extra Condensed','Liberation Sans',sans-serif" textLength="181.1" lengthAdjust="spacingAndGlyphs" class="sh" >Opening one gift early</text>
<text x="1073.7" y="1984.5" font-size="19.3" font-weight="700" text-anchor="start" fill="#def6cf" font-family="'Alfa Slab One','DejaVu Serif','Liberation Serif',serif" textLength="70.3" lengthAdjust="spacingAndGlyphs" class="nsh" >46.4%</text>
<g filter="url(#ssh)">
<g>
<ellipse cx="139" cy="60.6" rx="49.4" ry="48" fill="#efcd8c"/>
<ellipse cx="139" cy="60" rx="47" ry="45.5" fill="#f7e1ae"/>
<ellipse cx="141" cy="58" rx="33" ry="30" fill="#fae9c4"/>
<circle cx="143.7" cy="18.9" r="4.3" fill="#e53a3f"/>
<circle cx="154.4" cy="36.6" r="4.3" fill="#e53a3f"/>
<circle cx="124.2" cy="42.8" r="4.3" fill="#e53a3f"/>
<circle cx="181.9" cy="59.7" r="4.3" fill="#e53a3f"/>
<circle cx="140.2" cy="70.3" r="4.3" fill="#e53a3f"/>
<circle cx="109.1" cy="81.9" r="4.3" fill="#e53a3f"/>
<circle cx="178.3" cy="83.6" r="4.3" fill="#e53a3f"/>
<circle cx="170.3" cy="37.5" r="4.3" fill="#e53a3f"/>
<circle cx="128.6" cy="24.2" r="4.3" fill="#fdfcf7"/>
<circle cx="139.3" cy="53.5" r="4.3" fill="#fdfcf7"/>
<circle cx="165.9" cy="52.6" r="4.3" fill="#fdfcf7"/>
<circle cx="113.6" cy="66.8" r="4.3" fill="#fdfcf7"/>
<circle cx="127.7" cy="96.1" r="4.3" fill="#fdfcf7"/>
<circle cx="106.5" cy="38.4" r="4.1" fill="#3d8a4c"/>
<circle cx="97.6" cy="57.9" r="4.1" fill="#3d8a4c"/>
<circle cx="156.1" cy="60.6" r="4.1" fill="#3d8a4c"/>
<circle cx="163.2" cy="76.5" r="4.1" fill="#3d8a4c"/>
<circle cx="141.9" cy="88.1" r="4.1" fill="#3d8a4c"/>
<path d="M130,31 C136,26 142,30 141,37 C140,41 143,44 146,44" fill="none" stroke="#6e3a1c" stroke-width="4.6" stroke-linecap="round"/>
<path d="M130,31 C136,26 142,30 141,37 C140,41 143,44 146,44" fill="none" stroke="#c9a27a" stroke-width="1" stroke-linecap="round" stroke-dasharray="0.8 2.5" opacity="0.8"/>
<path d="M152,25 C157,19 165,21 167,27 C168,31 172,33 174,30" fill="none" stroke="#6e3a1c" stroke-width="4.6" stroke-linecap="round"/>
<path d="M152,25 C157,19 165,21 167,27 C168,31 172,33 174,30" fill="none" stroke="#c9a27a" stroke-width="1" stroke-linecap="round" stroke-dasharray="0.8 2.5" opacity="0.8"/>
<path d="M118,52 C110,53 105,60 108,68" fill="none" stroke="#6e3a1c" stroke-width="4.6" stroke-linecap="round"/>
<path d="M118,52 C110,53 105,60 108,68" fill="none" stroke="#c9a27a" stroke-width="1" stroke-linecap="round" stroke-dasharray="0.8 2.5" opacity="0.8"/>
<path d="M118,84 C121,78 130,77 134,82 C136,85 133,88 130,86" fill="none" stroke="#6e3a1c" stroke-width="4.6" stroke-linecap="round"/>
<path d="M118,84 C121,78 130,77 134,82 C136,85 133,88 130,86" fill="none" stroke="#c9a27a" stroke-width="1" stroke-linecap="round" stroke-dasharray="0.8 2.5" opacity="0.8"/>
<path d="M152,92 C150,85 156,80 162,83 C166,86 164,92 160,96" fill="none" stroke="#6e3a1c" stroke-width="4.6" stroke-linecap="round"/>
<path d="M152,92 C150,85 156,80 162,83 C166,86 164,92 160,96" fill="none" stroke="#c9a27a" stroke-width="1" stroke-linecap="round" stroke-dasharray="0.8 2.5" opacity="0.8"/>
<path d="M172,64 C176,67 180,70 186,68" fill="none" stroke="#6e3a1c" stroke-width="4.6" stroke-linecap="round"/>
<path d="M172,64 C176,67 180,70 186,68" fill="none" stroke="#c9a27a" stroke-width="1" stroke-linecap="round" stroke-dasharray="0.8 2.5" opacity="0.8"/>
<path d="M98,46 C100,43 102,41 105,41" fill="none" stroke="#6e3a1c" stroke-width="4.6" stroke-linecap="round"/>
<path d="M98,46 C100,43 102,41 105,41" fill="none" stroke="#c9a27a" stroke-width="1" stroke-linecap="round" stroke-dasharray="0.8 2.5" opacity="0.8"/>
</g>
<ellipse cx="53" cy="145.7" rx="49" ry="48" fill="#d38f24"/>
<ellipse cx="53" cy="145" rx="46.5" ry="45.5" fill="#e3a930"/>
<path d="M30,120 C40,110 62,110 72,122 C80,132 78,150 66,158 C52,166 32,160 26,146 C22,136 24,128 30,120 Z" fill="#e9b53f"/>
<path d="M18,150 C22,165 36,178 52,180 C40,172 30,162 18,150 Z" fill="#dca02c"/>
<ellipse cx="40" cy="118" rx="10" ry="6" fill="#eebc49" opacity="0.8"/>
<ellipse cx="70" cy="140" rx="8" ry="10" fill="#eebc49" opacity="0.8"/>
<ellipse cx="46" cy="168" rx="12" ry="6" fill="#eebc49" opacity="0.8"/>
<ellipse cx="24" cy="140" rx="6" ry="9" fill="#eebc49" opacity="0.8"/>
<ellipse cx="62" cy="120" rx="7" ry="5" fill="#eebc49" opacity="0.8"/>
<circle cx="55.5" cy="178.1" r="0.8" fill="#b8761c"/>
<circle cx="29.6" cy="170.6" r="0.8" fill="#b8761c"/>
<circle cx="45.1" cy="137.7" r="0.8" fill="#b8761c"/>
<circle cx="93.1" cy="149.0" r="0.8" fill="#b8761c"/>
<circle cx="51.7" cy="167.0" r="0.8" fill="#b8761c"/>
<circle cx="83.2" cy="144.9" r="0.8" fill="#b8761c"/>
<circle cx="68.7" cy="119.7" r="0.8" fill="#b8761c"/>
<circle cx="42.0" cy="132.6" r="0.8" fill="#b8761c"/>
<circle cx="25.9" cy="115.0" r="0.8" fill="#b8761c"/>
<circle cx="15.5" cy="140.2" r="0.8" fill="#b8761c"/>
<circle cx="47.7" cy="135.9" r="0.8" fill="#b8761c"/>
<circle cx="54.7" cy="111.9" r="0.8" fill="#b8761c"/>
<circle cx="50.5" cy="153.1" r="0.8" fill="#b8761c"/>
<circle cx="73.1" cy="123.1" r="0.8" fill="#b8761c"/>
<circle cx="45.0" cy="105.2" r="0.8" fill="#b8761c"/>
<circle cx="43.6" cy="104.5" r="0.8" fill="#b8761c"/>
<circle cx="21.9" cy="169.8" r="0.8" fill="#b8761c"/>
<circle cx="13.0" cy="160.2" r="0.8" fill="#b8761c"/>
<circle cx="62.9" cy="136.2" r="0.8" fill="#b8761c"/>
<circle cx="66.5" cy="161.2" r="0.8" fill="#b8761c"/>
<circle cx="81.4" cy="139.4" r="0.8" fill="#b8761c"/>
<circle cx="36.1" cy="128.5" r="0.8" fill="#b8761c"/>
<circle cx="25.7" cy="144.5" r="0.8" fill="#b8761c"/>
<circle cx="33.1" cy="172.8" r="0.8" fill="#b8761c"/>
<circle cx="16.9" cy="124.6" r="0.8" fill="#b8761c"/>
<circle cx="35.4" cy="107.1" r="0.8" fill="#b8761c"/>
<circle cx="80.1" cy="111.3" r="0.8" fill="#b8761c"/>
<circle cx="44.6" cy="130.1" r="0.8" fill="#b8761c"/>
<circle cx="80.7" cy="112.5" r="0.8" fill="#b8761c"/>
<circle cx="80.4" cy="127.0" r="0.8" fill="#b8761c"/>
<circle cx="48.4" cy="126.0" r="0.8" fill="#b8761c"/>
<circle cx="69.3" cy="116.7" r="0.8" fill="#b8761c"/>
<circle cx="50.6" cy="156.5" r="0.8" fill="#b8761c"/>
<circle cx="79.6" cy="110.9" r="0.8" fill="#b8761c"/>
<circle cx="86.4" cy="166.5" r="0.8" fill="#b8761c"/>
<circle cx="38.5" cy="154.8" r="0.8" fill="#b8761c"/>
<circle cx="42.5" cy="182.8" r="0.8" fill="#b8761c"/>
<circle cx="59.4" cy="139.1" r="0.8" fill="#b8761c"/>
<circle cx="46.0" cy="139.6" r="0.8" fill="#b8761c"/>
<circle cx="48.0" cy="120.9" r="0.8" fill="#b8761c"/>
<circle cx="84.9" cy="116.0" r="0.8" fill="#b8761c"/>
<circle cx="9.1" cy="144.2" r="0.8" fill="#b8761c"/>
<circle cx="48.5" cy="157.1" r="0.8" fill="#b8761c"/>
<circle cx="46.7" cy="141.1" r="0.8" fill="#b8761c"/>
<circle cx="62.1" cy="172.3" r="0.8" fill="#b8761c"/>
<ellipse cx="157.7" cy="221.8" rx="49" ry="49.4" fill="#4a230e"/>
<ellipse cx="157.7" cy="221.8" rx="45" ry="45" fill="#6c411c"/>
<path d="M128,200 C136,190 150,186 160,190 C150,196 140,204 134,214 Z M190,236 C186,250 176,260 164,262 C172,254 180,246 184,232 Z" fill="#5a3316"/>
<ellipse cx="140" cy="186" rx="6" ry="4" fill="#7e532b"/>
<ellipse cx="186" cy="196" rx="5" ry="3.5" fill="#7e532b"/>
<ellipse cx="126" cy="210" rx="4" ry="5" fill="#7e532b"/>
<ellipse cx="190" cy="232" rx="4" ry="5" fill="#7e532b"/>
<ellipse cx="150" cy="258" rx="6" ry="3.5" fill="#7e532b"/>
<ellipse cx="172" cy="252" rx="5" ry="4" fill="#7e532b"/>
<ellipse cx="125" cy="238" rx="3.5" ry="4" fill="#7e532b"/>
<circle cx="168" cy="175" r="4.2" fill="#2c1206"/>
<circle cx="130" cy="205" r="3.5" fill="#2c1206"/>
<circle cx="192" cy="212" r="3" fill="#2c1206"/>
<circle cx="124" cy="240" r="3.5" fill="#2c1206"/>
<circle cx="176" cy="257" r="4" fill="#2c1206"/>
<circle cx="141" cy="260" r="3.5" fill="#2c1206"/>
<circle cx="196" cy="241" r="3.5" fill="#2c1206"/>
<circle cx="181" cy="191" r="2.5" fill="#2c1206"/>
<circle cx="140" cy="186" r="3" fill="#2c1206"/>
<circle cx="113" cy="225" r="2.5" fill="#2c1206"/>
<circle cx="150" cy="180" r="2" fill="#2c1206"/>
<circle cx="197" cy="225" r="2.2" fill="#2c1206"/>
<circle cx="118" cy="250" r="2.6" fill="#2c1206"/>
<circle cx="160" cy="266" r="2.4" fill="#2c1206"/>
<circle cx="157.9" cy="221.5" r="25.6" fill="#f4efe2"/>
<path d="M140,214 C146,204 162,200 172,206 C178,212 176,224 168,230 C160,222 150,218 140,214 Z" fill="#e7e6e6"/>
<ellipse cx="1110" cy="99" rx="49.4" ry="48.2" fill="#74a866"/>
<ellipse cx="1110" cy="98.5" rx="46" ry="45" fill="#93c382"/>
<ellipse cx="1095" cy="80" rx="14" ry="11" fill="#acd39a"/>
<ellipse cx="1122" cy="72" rx="12" ry="8" fill="#acd39a"/>
<ellipse cx="1088" cy="108" rx="12" ry="13" fill="#acd39a"/>
<ellipse cx="1112" cy="112" rx="14" ry="10" fill="#acd39a"/>
<ellipse cx="1132" cy="98" rx="9" ry="12" fill="#acd39a"/>
<ellipse cx="1104" cy="136" rx="13" ry="7" fill="#acd39a"/>
<ellipse cx="1080" cy="82" rx="6" ry="9" fill="#acd39a"/>
<ellipse cx="1138" cy="122" rx="8" ry="8" fill="#acd39a"/>
<ellipse cx="1108" cy="92" rx="7" ry="8" fill="#acd39a"/>
<path d="M1075,90 C1085,86 1092,92 1100,90 C1108,88 1114,80 1122,82 M1100,90 C1102,100 1098,108 1100,118 C1102,126 1110,130 1118,128 M1100,118 C1092,122 1084,120 1078,116 M1118,128 C1126,122 1134,116 1142,114 M1122,82 C1128,90 1134,96 1142,98 M1090,62 C1094,70 1098,76 1100,90 M1126,60 C1128,68 1124,76 1122,82 M1110,140 C1112,134 1116,130 1118,128" fill="none" stroke="#76aa68" stroke-width="2.2" stroke-linecap="round"/>
<path d="M1126.5,91.5 C1120,86 1118,83 1118.5,80.5 C1119,77.5 1123,77 1126.5,80 C1130,77 1134,77.5 1134.5,80.5 C1135,83 1133,86 1126.5,91.5 Z" fill="#e53c42"/>
<ellipse cx="1060" cy="218.5" rx="42.4" ry="43" fill="#c9904f"/>
<ellipse cx="1060" cy="218" rx="40" ry="40.5" fill="#dcaa6c"/>
<ellipse cx="1040" cy="196" rx="10" ry="7" fill="#e8bd84"/>
<ellipse cx="1076" cy="190" rx="9" ry="6" fill="#e8bd84"/>
<ellipse cx="1086" cy="222" rx="6" ry="10" fill="#e8bd84"/>
<ellipse cx="1046" cy="244" rx="10" ry="6" fill="#e8bd84"/>
<ellipse cx="1074" cy="246" rx="8" ry="6" fill="#e8bd84"/>
<ellipse cx="1032" cy="222" rx="5" ry="9" fill="#e8bd84"/>
<circle cx="1059.7" cy="218" r="23.2" fill="#3a1807"/>
<circle cx="1059.7" cy="218.5" r="20.5" fill="#5c2a10"/>
<path d="M1040,214 C1043,203 1052,198 1060,198 C1070,198 1077,204 1079.5,213 C1066,208 1052,209 1040,214 Z" fill="#8b3628"/>
<circle cx="1059.5" cy="217.5" r="2" fill="#d9434b"/>
<ellipse cx="1184.7" cy="199" rx="48.2" ry="49.5" fill="#f1cf8c"/>
<ellipse cx="1184.7" cy="198.5" rx="45.5" ry="46.5" fill="#f9e5b3"/>
<ellipse cx="1170" cy="180" rx="14" ry="11" fill="#fcefcd"/>
<ellipse cx="1198" cy="176" rx="12" ry="10" fill="#fcefcd"/>
<ellipse cx="1176" cy="210" rx="13" ry="12" fill="#fcefcd"/>
<ellipse cx="1204" cy="214" rx="11" ry="12" fill="#fcefcd"/>
<ellipse cx="1190" cy="236" rx="12" ry="7" fill="#fcefcd"/>
<ellipse cx="1160" cy="200" rx="6" ry="10" fill="#fcefcd"/>
<path d="M1150,190 C1160,192 1168,196 1176,194 C1186,192 1192,186 1202,190 C1210,194 1216,200 1226,198 M1176,194 C1178,206 1184,214 1190,222 C1196,230 1206,232 1214,228 M1190,222 C1180,228 1170,232 1162,228 M1184,160 C1184,170 1180,178 1176,194 M1202,190 C1206,178 1212,170 1216,164" fill="none" stroke="#efd29a" stroke-width="2" stroke-linecap="round"/>
</g>
<text x="205.8" y="160.5" font-size="87" font-weight="700" font-family="'Alfa Slab One','DejaVu Serif','Liberation Serif',serif" textLength="829.7" lengthAdjust="spacing" fill="#de3f45" stroke="#ffffff" stroke-width="8.5" stroke-linejoin="round" paint-order="stroke" filter="url(#ttl)"><tspan font-size="75">C</tspan>hristmas <tspan font-size="75">C</tspan>ookie</text>
<text x="377.0" y="252.0" font-size="87" font-weight="700" font-family="'Alfa Slab One','DejaVu Serif','Liberation Serif',serif" textLength="487.0" lengthAdjust="spacing" fill="#de3f45" stroke="#ffffff" stroke-width="8.5" stroke-linejoin="round" paint-order="stroke" filter="url(#ttl)"><tspan font-size="75">T</tspan>raditions</text>
<g filter="url(#santash)">
<path d="M655,466 C672,470 688,482 700,497 C708,506 714,512 719,518 L705,532 C698,526 690,518 682,510 C672,500 662,492 652,488 Z" fill="#ee4949"/>
<path d="M676,474 C688,484 698,494 706,505 L700,510 C692,500 684,490 672,482 Z" fill="#d1262e"/>
<path d="M712,522 C720,516 730,518 738,525 C746,532 748,542 744,548 C740,552 734,550 730,546 L726,549 C722,551 717,548 716,543 C712,537 709,528 712,522 Z" fill="#16282e"/>
<rect x="-14" y="-7.5" width="28" height="15" rx="7.5" transform="translate(715.5,523) rotate(-42)" fill="#f5eddb"/>
<path d="M563,600 L633,600 C632,612 627,622 624,630 C621,636 620,641 620,646 L584,646 C578,632 570,616 563,600 Z" fill="#ee4949"/>
<path d="M628,596 L690,588 C694,600 697,610 698,618 L676,636 C664,630 650,624 634,620 Z" fill="#ee4949"/>
<path d="M634,606 C645,603 660,604 668,610 C660,612 648,612 640,616 Z" fill="#d1262e"/>
<path d="M576,655 L620,655 C621,662 621,668 620,673 L570,673 C566,673 566,668 568,664 C570,660 573,657 576,655 Z" fill="#16282e"/>
<path d="M702,616 C712,616 722,618 729,624 C725,632 716,640 704,648 C698,652 692,654 689,651 L684,644 Z" fill="#16282e"/>
<rect x="581.5" y="644.5" width="40.5" height="13" rx="6.5" fill="#f5eddb"/>
<rect x="-20" y="-6.5" width="40" height="13" rx="6.5" transform="translate(689,627) rotate(-33)" fill="#f5eddb"/>
<path d="M560,482 C553,500 549,525 549,552 C549,566 550,576 551,586 L640,590 C660,580 680,570 698,560 C698,545 696,528 693,512 C690,494 684,480 672,468 C650,458 600,458 575,466 Z" fill="#ee4949"/>
<path d="M552,560 C580,566 620,566 650,560 L650,572 C620,580 580,578 552,574 Z" fill="#d1262e" opacity="0.35"/>
<path d="M665,470 C676,478 684,490 688,505 L684,520 C680,505 674,490 662,478 Z" fill="#d1262e" opacity="0.8"/>
<path d="M554,596 C572,608 612,611 642,590 L646,597 C628,611 606,614 588,613 C572,612 560,606 554,596 Z" fill="#d1262e"/>
<path d="M640,594 C660,594 684,584 699,572 L700,579 C686,590 664,598 642,600 Z" fill="#d1262e"/>
<path d="M548,576 C562,583 600,590 637,578 L642,590 C630,602 610,606 590,606 C572,606 560,602 555,597 C550,592 547,584 548,576 Z" fill="#f5eddb"/>
<path d="M634,578 C650,582 670,576 685,566 C692,561 697,556 698,556 C703,562 703,570 698,575 C688,585 670,592 650,594 L640,592 Z" fill="#f5eddb"/>
<path d="M618,490 L634,490 L641,532 L624,534 Z" fill="#f5eddb"/>
<path d="M627,558 L645,556 C644,566 643,574 641,582 L632,582 C630,574 628,566 627,558 Z" fill="#f5eddb"/>
<path d="M549.5,540.5 C590,544 642,535 692,521.5 L692.5,537 C642,549 590,557 549.5,556.5 Z" fill="#16282e"/>
<g transform="rotate(-5 636 546)"><rect x="619.5" y="530.5" width="33" height="31" rx="5" fill="#dca127"/><rect x="626" y="537.5" width="20.5" height="17" rx="1.5" fill="#16282e"/><rect x="622.5" y="547" width="9" height="3.2" rx="1.6" fill="#c98a1c"/></g>
<path d="M518,438 C528,460 540,485 556,508 L568,500 C572,485 574,470 572,458 C562,448 550,438 540,426 Z" fill="#ee4949"/>
<path d="M552,436 C558,448 563,460 566,474 C568,484 568,492 566,500 L560,496 C560,476 556,456 548,440 Z" fill="#d1262e"/>
<path d="M562,488 L556,500" stroke="#16282e" stroke-width="0.8"/>
<path d="M503,418 C497,410 497,400 505,397 C511,395 517,399 521,404 C526,404 531,408 531,414 C531,419 526,421 520,421 Z" fill="#16282e"/>
<path d="M495.5,439 L524,396 C528,389.5 537,387.5 543,391.5 C549,396.5 547.5,405 540,410.5" fill="none" stroke="url(#cane)" stroke-width="8" stroke-linecap="round"/>
<path d="M497,440.5 L525.5,397.5" fill="none" stroke="#c9252c" stroke-width="2" stroke-linecap="round" opacity="0.6"/>
<ellipse cx="0" cy="0" rx="14.8" ry="10" transform="translate(524.7,428) rotate(-22)" fill="#f5eddb"/>
<path d="M582,412 C579,393 596,381 617,381 C633,381 645,388 653,396 C660,403 668,405 675,404 L672,416 C660,418 648,416 640,414 Z" fill="#ee4949"/>
<path d="M640,402 C650,408 662,410 672,408 L671,416 C660,418 648,416 640,414 Z" fill="#d1262e"/>
<path d="M636,395 C639,398 641,401 642,404" stroke="#16282e" stroke-width="0.8" fill="none"/>
<circle cx="674.7" cy="406.8" r="10.2" fill="#f5eddb"/>
<path d="M588,416 C600,412 630,412 642,417 C644,428 643,440 640,448 L590,448 C587,438 587,426 588,416 Z" fill="#f6cd8f"/>
<path d="M588,428 C600,431 630,431 643,429 C643,438 642,444 640,449 L590,449 C588,442 587,435 588,428 Z" fill="#f3b58c"/>
<path d="M594,415 C580,416 570,414 566,413 C570,418 574,421 577,423 C570,424 565,426 561,428 C567,430 572,432 575,433 C569,436 565,438 561,439.5 C570,442 578,443 586,443 L588,432 C590,425 592,420 594,415 Z" fill="#f5eddb"/>
<path d="M636,416 C650,420 658,424 663,426 C659,429 656,431 653,432 C659,434 663,437 665,439 C660,440 656,441 652,442 L644,441 C642,432 640,423 636,416 Z" fill="#f5eddb"/>
<circle cx="576.5" cy="432.5" r="5.6" fill="#f1ad87"/>
<circle cx="650" cy="436.8" r="5.6" fill="#f1ad87"/>
<path d="M583,418 C600,415 630,415 647,419 L647.5,412 C648,408 645,405.5 642,406 C641,402.5 638,401 634.5,402 C632.5,399 628.5,398.5 625.5,400 C622.5,397.5 617.5,397.5 614.5,399.5 C611.5,397.5 606.5,397.5 603.5,400 C600,398 596,399 594,402 C590,402 586.5,404.5 586.5,408 C584,410 583,414 583,418 Z" fill="#f5eddb"/>
<ellipse cx="612" cy="465" rx="41" ry="26" fill="#f5eddb"/>
<circle cx="571" cy="446" r="8" fill="#f5eddb"/>
<circle cx="569" cy="458" r="8" fill="#f5eddb"/>
<circle cx="572" cy="470" r="8.5" fill="#f5eddb"/>
<circle cx="578" cy="480" r="9" fill="#f5eddb"/>
<circle cx="588" cy="487" r="9" fill="#f5eddb"/>
<circle cx="600" cy="491" r="9" fill="#f5eddb"/>
<circle cx="613" cy="492.5" r="9" fill="#f5eddb"/>
<circle cx="627" cy="491" r="9" fill="#f5eddb"/>
<circle cx="639" cy="486" r="9" fill="#f5eddb"/>
<circle cx="648" cy="478" r="9" fill="#f5eddb"/>
<circle cx="654" cy="468" r="8.5" fill="#f5eddb"/>
<circle cx="656" cy="457" r="8" fill="#f5eddb"/>
<circle cx="654" cy="446" r="7.5" fill="#f5eddb"/>
<circle cx="583" cy="444" r="8" fill="#f5eddb"/>
<circle cx="644" cy="446" r="8" fill="#f5eddb"/>
<path d="M580,470 C586,478 596,478 602,472 M606,484 C614,490 624,490 630,484 M590,489 C597,493 605,493 610,489 M628,466 C634,472 642,472 648,466" stroke="#e6dcbc" stroke-width="1.1" fill="none"/>
<path d="M585,440 C596,446 608,447 616,442 C624,447 636,447 646,441 C644,450 632,455 616,451 C600,455 588,450 585,440 Z" fill="#f5eddb"/>
<ellipse cx="604.7" cy="418.5" rx="4.2" ry="2.3" fill="#fbf2e0"/>
<ellipse cx="629" cy="420" rx="4.2" ry="2.3" fill="#fbf2e0"/>
<ellipse cx="595" cy="435.5" rx="8" ry="4.6" fill="#ef4650"/>
<ellipse cx="634.6" cy="439" rx="8" ry="5" fill="#ef4650"/>
<path d="M600.6,430.5 Q604.2,425.2 607.8,430.5 M623.8,431.6 Q627.4,426.3 631,431.6" stroke="#16282e" stroke-width="1.5" fill="none" stroke-linecap="round"/>
<circle cx="616.5" cy="433" r="5.6" fill="#ee4248"/>
<ellipse cx="614.6" cy="450" rx="3.6" ry="2.2" fill="#e2363d"/>
<path d="M598.5,447.4 Q603,452.8 608.5,451.6 Q613.5,450 615.6,443.8 Q618,450.5 622.8,452.2 Q627.5,452.4 629.5,447" stroke="#16282e" stroke-width="1.5" fill="none" stroke-linecap="round"/>
</g>
</svg>
</body></html>
